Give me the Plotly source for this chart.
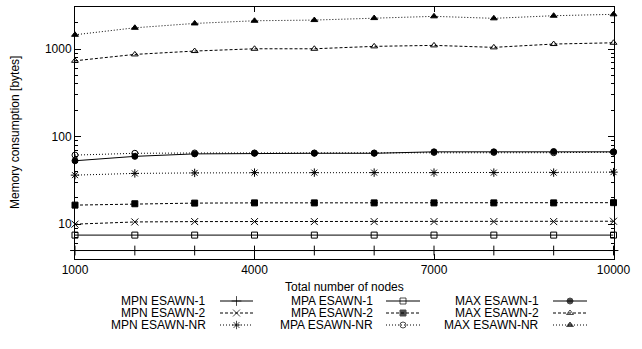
import math
import plotly.graph_objects as go

# ---- data ----
nodes = [1000, 2000, 3000, 4000, 5000, 6000, 7000, 8000, 9000, 10000]
mpn_esawn_1 = [5, 5, 5, 5, 5, 5, 5, 5, 5, 5]
mpn_esawn_2 = [10.0, 10.6, 10.7, 10.7, 10.7, 10.7, 10.7, 10.7, 10.7, 10.8]
mpn_esawn_nr = [36.3, 38.0, 38.5, 38.8, 38.8, 38.8, 38.8, 38.8, 38.8, 39.3]
mpa_esawn_1 = [7.5, 7.5, 7.5, 7.5, 7.5, 7.5, 7.5, 7.5, 7.5, 7.5]
mpa_esawn_2 = [16.5, 17.1, 17.4, 17.5, 17.5, 17.5, 17.5, 17.5, 17.5, 17.6]
mpa_esawn_nr = [61.5, 64.5, 65, 65, 65, 65, 66, 66, 65.5, 66.5]
max_esawn_1 = [53, 59.5, 63.5, 64.5, 64.5, 64.5, 67, 67, 67.5, 67]
max_esawn_2 = [735, 869, 949, 1008, 1008, 1074, 1102, 1046, 1141, 1180]
max_esawn_nr = [1456, 1750, 1963, 2105, 2144, 2259, 2365, 2244, 2404, 2493]

x_ticks = [1000, 4000, 7000, 10000]
y_ticks = [10, 100, 1000]
y_minor = [5, 6, 7, 8, 9, 20, 30, 40, 50, 60, 70, 80, 90,
           200, 300, 400, 500, 600, 700, 800, 900, 2000, 3000]

FONT = "Liberation Sans, Arial, Helvetica, sans-serif"
W, H = 642, 349

DASH = {"1": "solid", "2": "3px,2px", "NR": "1px,2px"}

series = [
    # name, values, dash key, symbol, size
    ("MPN ESAWN-1", mpn_esawn_1, "1", "cross-thin-open", 7),
    ("MPN ESAWN-2", mpn_esawn_2, "2", "x-thin-open", 7),
    ("MPN ESAWN-NR", mpn_esawn_nr, "NR", "asterisk-open", 7),
    ("MPA ESAWN-1", mpa_esawn_1, "1", "square-open", 6),
    ("MPA ESAWN-2", mpa_esawn_2, "2", "square", 6),
    ("MPA ESAWN-NR", mpa_esawn_nr, "NR", "circle-open", 6),
    ("MAX ESAWN-1", max_esawn_1, "1", "circle", 6),
    ("MAX ESAWN-2", max_esawn_2, "2", "triangle-up-open", 6),
    ("MAX ESAWN-NR", max_esawn_nr, "NR", "triangle-up", 6),
]

fig = go.Figure()

for name, vals, dk, sym, sz in series:
    fig.add_trace(go.Scatter(
        x=nodes, y=vals, mode="lines+markers", name=name, showlegend=False,
        line=dict(color="black", width=1, dash=DASH[dk]),
        marker=dict(symbol=sym, size=sz, color="black",
                    line=dict(color="black", width=1)),
        cliponaxis=False,
    ))

# ---- manual gnuplot-style legend (pixel overlay axes) ----
col_text_end = [208, 375, 541]
col_sample = [(220, 253), (386, 420), (553, 587)]
row_y = [301, 313, 325]
annotations = []
for i, (name, vals, dk, sym, sz) in enumerate(series):
    c, r = i // 3, i % 3
    x0, x1 = col_sample[c]
    fig.add_trace(go.Scatter(
        x=[x0, (x0 + x1) / 2, x1], y=[row_y[r]] * 3, mode="lines+markers",
        xaxis="x3", yaxis="y3", showlegend=False, hoverinfo="skip",
        line=dict(color="black", width=1, dash=DASH[dk]),
        marker=dict(symbol=sym, size=[0, sz, 0], color="black",
                    line=dict(color="black", width=1)),
        cliponaxis=False,
    ))
    annotations.append(dict(
        x=col_text_end[c], y=row_y[r], xref="x3", yref="y3", text=name,
        showarrow=False, xanchor="right", yanchor="middle",
        font=dict(family=FONT, size=12, color="black"),
    ))

annotations.append(dict(
    x=344, y=287, xref="x3", yref="y3", text="Total number of nodes",
    showarrow=False, xanchor="center", yanchor="middle",
    font=dict(family=FONT, size=12, color="black")))
annotations.append(dict(
    x=15, y=133, xref="x3", yref="y3", text="Memory consumption [bytes]",
    showarrow=False, xanchor="center", yanchor="middle", textangle=-90,
    font=dict(family=FONT, size=12, color="black")))

fig.update_layout(
    width=W, height=H,
    margin=dict(l=0, r=0, t=0, b=0, autoexpand=False),
    showlegend=False,
    paper_bgcolor="white", plot_bgcolor="rgba(0,0,0,0)",
    font=dict(family=FONT, size=12, color="black"),
    xaxis=dict(
        domain=[75 / W, 613.5 / W], range=[1000, 10000],
        tickmode="array", tickvals=x_ticks, ticktext=[str(v) for v in x_ticks],
        ticks="inside", ticklen=5, tickcolor="black", tickwidth=1,
        showline=True, linecolor="black", linewidth=1, mirror="ticks",
        showgrid=False, zeroline=False, anchor="y", automargin=False,
        tickfont=dict(family=FONT, size=12, color="black"),
    ),
    yaxis=dict(
        type="log", domain=[(H - 259) / H, (H - 7.3) / H],
        range=[math.log10(4), math.log10(3000)],
        tickmode="array", tickvals=y_ticks, ticktext=[str(v) for v in y_ticks],
        ticks="inside", ticklen=6, tickcolor="black", tickwidth=1,
        minor=dict(tickmode="array", tickvals=y_minor, ticks="inside",
                   ticklen=3, tickcolor="black", tickwidth=1, showgrid=False),
        showline=True, linecolor="black", linewidth=1, mirror="ticks",
        showgrid=False, zeroline=False, anchor="x", automargin=False,
        tickfont=dict(family=FONT, size=12, color="black"),
    ),
    xaxis3=dict(domain=[0, 1], range=[0, W], visible=False, anchor="y3",
                fixedrange=True, automargin=False),
    yaxis3=dict(domain=[0, 1], range=[H, 0], visible=False, anchor="x3",
                fixedrange=True, automargin=False),
    annotations=annotations,
)

fig.write_html(
    "out.html",
    config={"displayModeBar": False, "staticPlot": True},
    post_script="document.body.style.margin='0';document.body.style.overflow='hidden';",
)
